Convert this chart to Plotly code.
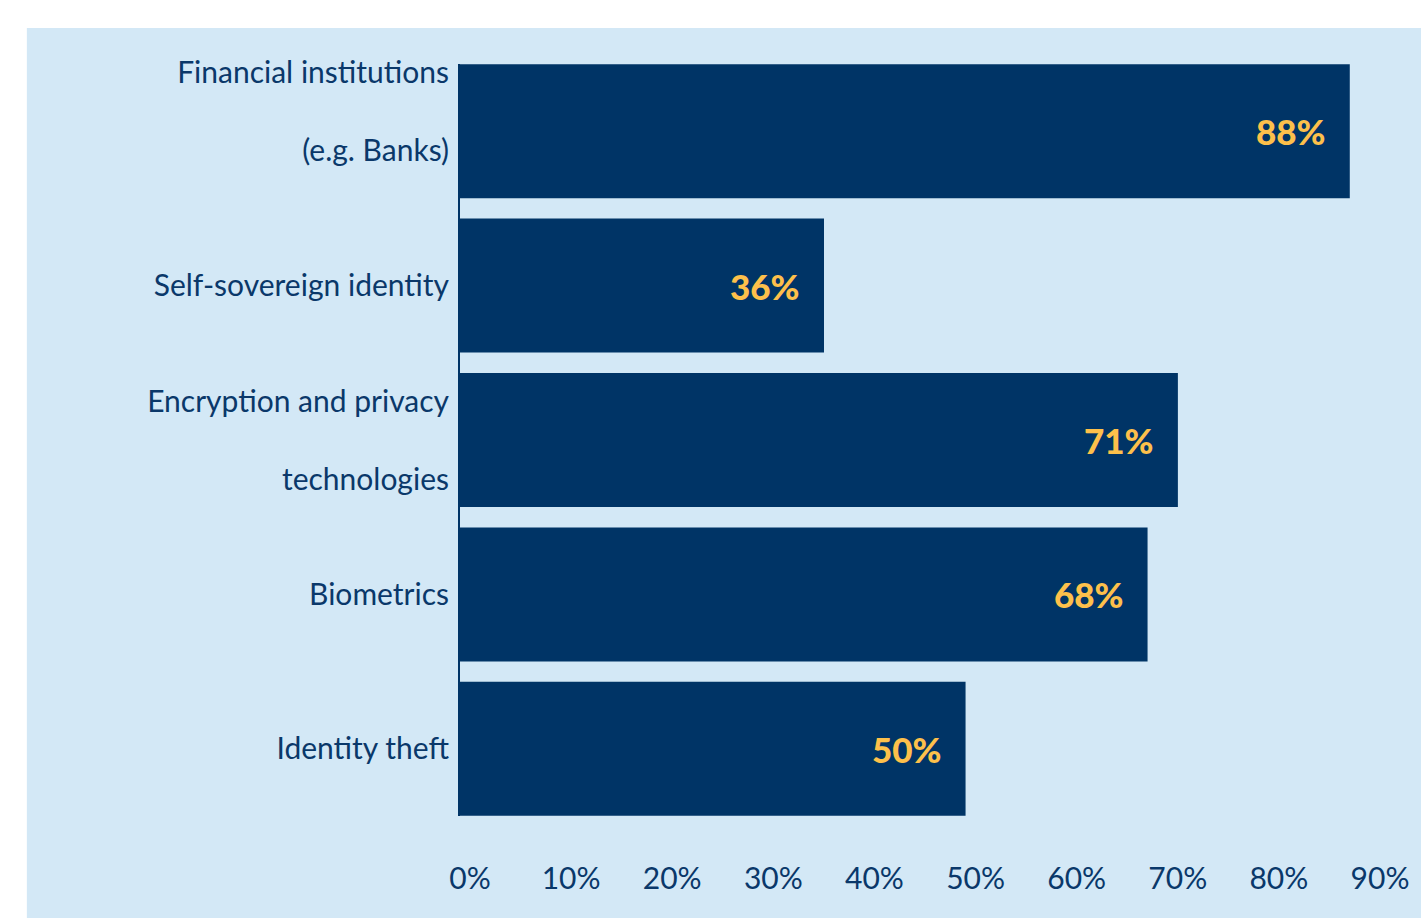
import plotly.graph_objects as go

# Survey data
categories = [
    "Financial institutions<br><br>(e.g. Banks)<br>",
    "Self-sovereign identity",
    "Encryption and privacy<br><br>technologies",
    "Biometrics",
    "Identity theft",
]
values = [88, 36, 71, 68, 50]
value_labels = ["88%", "36%", "71%", "68%", "50%"]
tick_values = [0, 10, 20, 30, 40, 50, 60, 70, 80, 90]
tick_labels = ["0%", "10%", "20%", "30%", "40%", "50%", "60%", "70%", "80%", "90%"]

NAVY = "#003466"
TEXT = "#0A386A"
GOLD = "#FDC04B"
PANEL = "#D3E8F6"

W, H = 1421, 918
M_L, M_R, M_T, M_B = 460, 45, 64, 102
PANEL_X0, PANEL_Y0 = 24, 28

plot_w = W - M_L - M_R
plot_h = H - M_T - M_B
font_family = "Lato, 'Open Sans', sans-serif"

fig = go.Figure()
fig.add_trace(go.Bar(
    x=values,
    y=list(range(len(categories))),
    orientation="h",
    marker=dict(color=NAVY, line=dict(width=0)),
    hoverinfo="skip",
))

# value labels inside the end of each bar
for i, (v, lab) in enumerate(zip(values, value_labels)):
    fig.add_annotation(
        x=v, y=i, xref="x", yref="y", text=lab, showarrow=False,
        xanchor="right", xshift=-22,
        font=dict(family=font_family, size=35, color=GOLD, weight=900),
    )

# light blue panel behind the chart
fig.add_shape(
    type="rect", xref="paper", yref="paper", layer="below",
    x0=(PANEL_X0 - M_L) / plot_w, x1=(W - M_L + 50) / plot_w,
    y0=-(M_B + 50) / plot_h, y1=1 + (M_T - PANEL_Y0) / plot_h,
    fillcolor=PANEL, line=dict(width=0),
)

gap = 0.065
fig.update_layout(
    width=W, height=H,
    margin=dict(l=M_L, r=M_R, t=M_T, b=M_B, pad=0),
    paper_bgcolor="white",
    plot_bgcolor="rgba(0,0,0,0)",
    bargap=0.132,
    showlegend=False,
    font=dict(family=font_family, color=TEXT),
    xaxis=dict(
        range=[0, 90], tickmode="array",
        tickvals=tick_values, ticktext=tick_labels,
        showgrid=False, zeroline=False, showline=False, ticks="",
        tickfont=dict(size=30, color=TEXT),
        ticklabelstandoff=42, ticklabelshift=10,
    ),
    yaxis=dict(
        range=[len(categories) - 1 + 0.5 - gap, -0.5 + gap],
        tickvals=list(range(len(categories))), ticktext=categories,
        showgrid=False, zeroline=False, showline=True,
        linecolor=NAVY, linewidth=2, ticks="",
        tickfont=dict(size=30, color=TEXT),
        ticklabelstandoff=3,
    ),
)

fig.write_html("out.html")
